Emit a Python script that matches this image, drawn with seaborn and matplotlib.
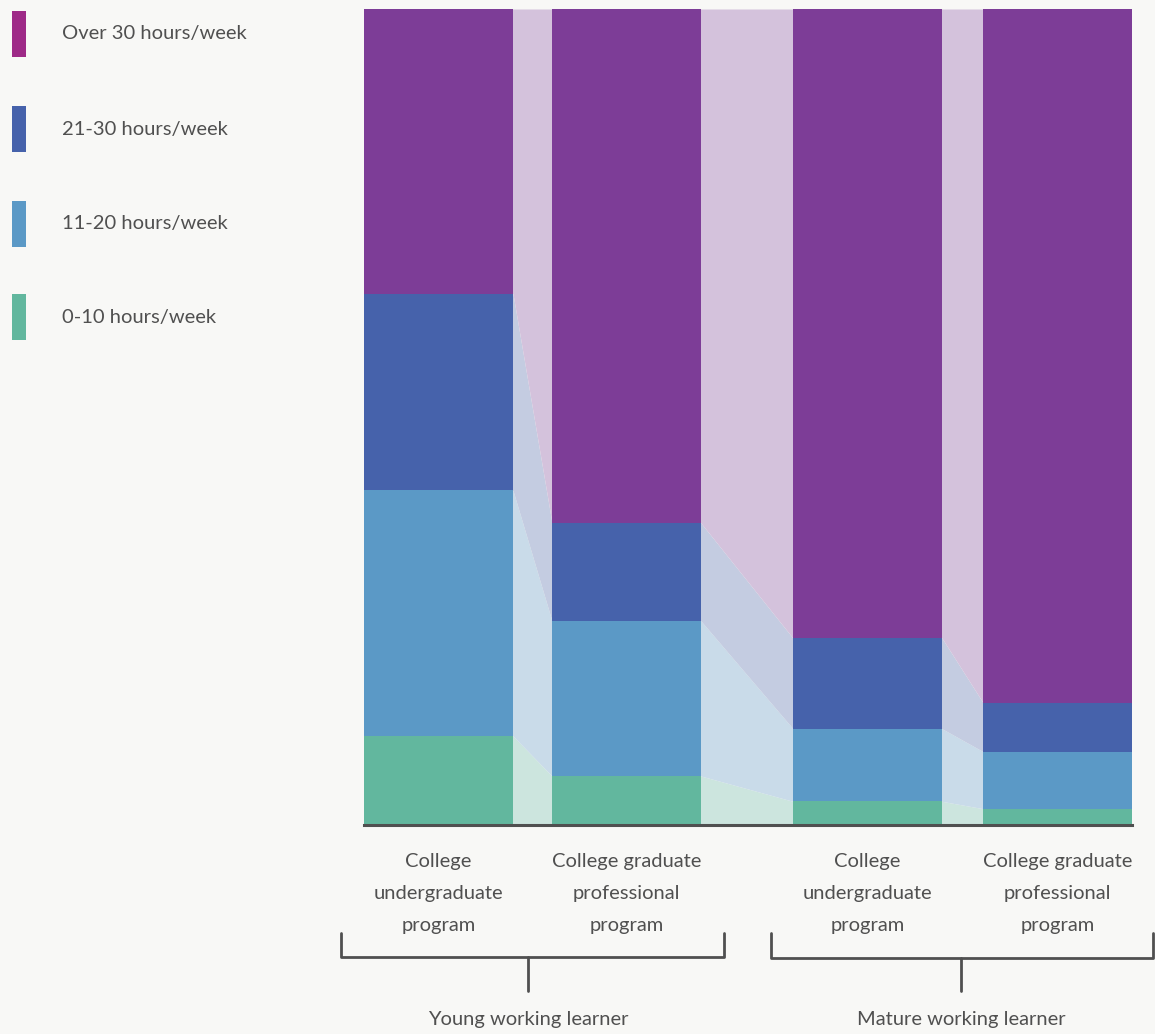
import numpy as np
import pandas as pd
import matplotlib
matplotlib.use("Agg")
import matplotlib.pyplot as plt
from matplotlib.lines import Line2D
import seaborn as sns

# ---------------- data ----------------
categories = [
    "College\nundergraduate\nprogram",
    "College graduate\nprofessional\nprogram",
    "College\nundergraduate\nprogram",
    "College graduate\nprofessional\nprogram",
]
groups = ["Young working learner", "Mature working learner"]
series_names = ["0-10 hours/week", "11-20 hours/week", "21-30 hours/week", "Over 30 hours/week"]
hours_0_10 = [10.9, 6.0, 2.9, 2.0]
hours_11_20 = [30.1, 19.0, 8.9, 7.0]
hours_21_30 = [24.1, 12.0, 11.1, 6.0]
hours_over_30 = [34.9, 63.0, 77.1, 85.0]

# ---------------- style ----------------
BG = "#f8f8f6"
TXT = "#505050"
bar_colors = ["#62b79e", "#5b99c6", "#4662ab", "#7d3d97"]
band_colors = ["#cce5de", "#c9dbe9", "#c4cce1", "#d4c2dc"]
legend_colors = ["#62b79e", "#5b99c6", "#4662ab", "#9e2a87"]

W, H = 1155, 1034
sns.set_theme(style="white")
plt.rcParams["font.family"] = ["Lato", "DejaVu Sans"]

fig = plt.figure(figsize=(W / 100, H / 100), dpi=100, facecolor=BG)

# axes placement (pixels)
ax_left, ax_right, ax_top, ax_bottom = 364, 1132, 9, 825
ax = fig.add_axes([ax_left / W, (H - ax_bottom) / H,
                   (ax_right - ax_left) / W, (ax_bottom - ax_top) / H])
ax.set_facecolor(BG)

# bar layout (in axis x units = pixels from axis left)
positions = np.array([74.5, 262.5, 503.5, 693.5])
bar_w = 149.0

layers = [hours_0_10, hours_11_20, hours_21_30, hours_over_30]
vals = np.array(layers)              # (4 layers, 4 bars)
tops = np.cumsum(vals, axis=0)
bottoms = tops - vals

rows = []
for li in range(4):
    for bi in range(4):
        rows.append({"pos": positions[bi], "layer": li, "top": tops[li, bi]})
df = pd.DataFrame(rows)

rel_w = bar_w / np.min(np.diff(positions))
for li in reversed(range(4)):
    sub = df[df["layer"] == li]
    sns.barplot(data=sub, x="pos", y="top", native_scale=True, width=rel_w,
                color=bar_colors[li], saturation=1, errorbar=None,
                linewidth=0, edgecolor="none", ax=ax, zorder=2)

# connecting bands (slightly tucked under the bars to avoid seams)
for bi in range(3):
    x0 = positions[bi] + bar_w / 2
    x1 = positions[bi + 1] - bar_w / 2
    for li in range(4):
        xs = [x0 - 1.5, x0, x1, x1 + 1.5]
        lo = [bottoms[li, bi], bottoms[li, bi], bottoms[li, bi + 1], bottoms[li, bi + 1]]
        hi = [tops[li, bi], tops[li, bi], tops[li, bi + 1], tops[li, bi + 1]]
        ax.fill_between(xs, lo, hi, color=band_colors[li], linewidth=0, zorder=1)

ax.set_xlim(0, ax_right - ax_left)
ax.set_ylim(0, tops[-1].max())
ax.set_xlabel("")
ax.set_ylabel("")
ax.set_xticks([])
ax.set_yticks([])
for s in ["top", "left", "right"]:
    ax.spines[s].set_visible(False)
ax.spines["bottom"].set_color(TXT)
ax.spines["bottom"].set_linewidth(2.2)
ax.spines["bottom"].set_zorder(5)


def fx(x):
    return x / W


def fy(y):
    return 1 - y / H


# category labels
fs = 14.5
line_ys = [862, 894, 926]
for bi, lab in enumerate(categories):
    cx = ax_left + positions[bi]
    for k, line in enumerate(lab.split("\n")):
        fig.text(fx(cx), fy(line_ys[k]), line, ha="center", va="center",
                 fontsize=fs, color=TXT)

# brackets
brackets = [(341, 724, 528, 957), (771, 1153, 961, 958)]
lw = 2.0
for (xl, xr, xs_, yb) in brackets:
    fig.add_artist(Line2D([fx(xl), fx(xl), fx(xr), fx(xr)],
                          [fy(933), fy(yb), fy(yb), fy(933)],
                          color=TXT, lw=lw, transform=fig.transFigure))
    fig.add_artist(Line2D([fx(xs_), fx(xs_)], [fy(yb), fy(991)],
                          color=TXT, lw=lw, transform=fig.transFigure))
for gi, g in enumerate(groups):
    fig.text(fx(brackets[gi][2]), fy(1020), g, ha="center", va="center",
             fontsize=fs, color=TXT)

# legend
leg_centers = [317, 224, 129, 34]
for li in range(4):
    yc = leg_centers[li]
    fig.add_artist(plt.Rectangle((fx(12), fy(yc + 23)), 14 / W, 46 / H,
                                 color=legend_colors[li], linewidth=0,
                                 transform=fig.transFigure))
    fig.text(fx(62), fy(yc), series_names[li], ha="left", va="center",
             fontsize=fs, color=TXT)

fig.savefig("out.png", dpi=100, facecolor=BG)
